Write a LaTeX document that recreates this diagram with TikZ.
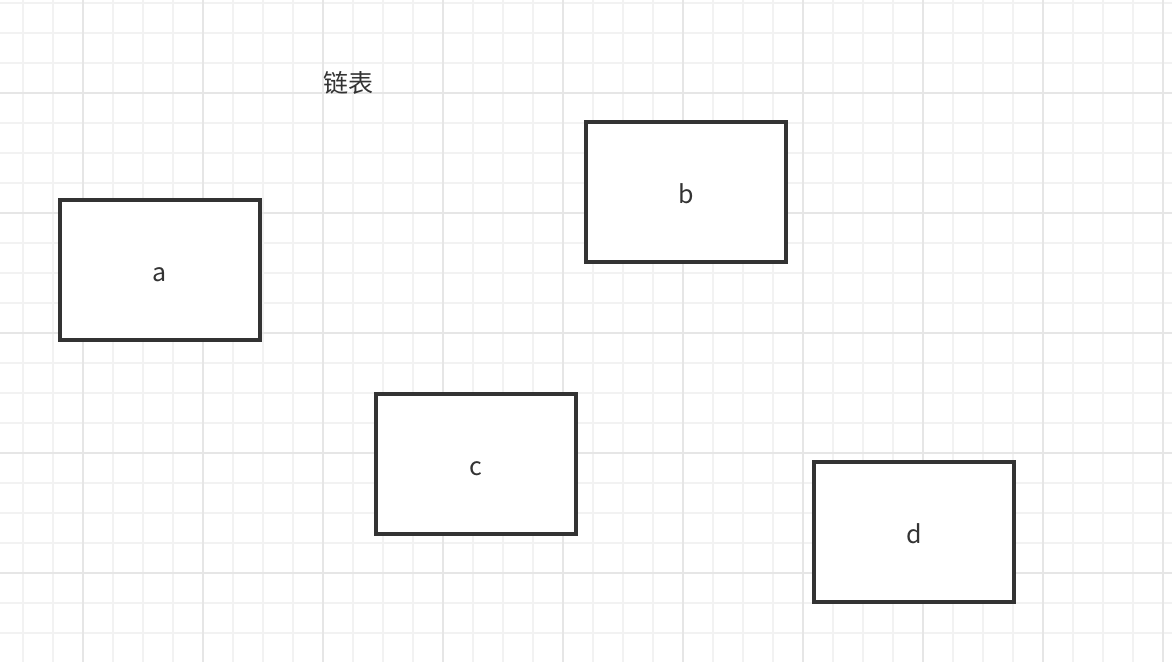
\documentclass[tikz,border=0pt]{standalone}
\usepackage{fontspec}
\setmainfont{Noto Sans CJK SC}
\definecolor{ink}{HTML}{333333}
\definecolor{gridminor}{HTML}{F2F2F2}
\definecolor{gridmajor}{HTML}{E6E6E6}
\tikzset{
  listnode/.style={draw=ink, line width=3.5pt, fill=white, rectangle,
    minimum width=200pt, minimum height=140pt, inner sep=0pt,
    text height=22pt, text depth=0pt,
    text=ink, font=\fontsize{25}{30}\selectfont},
  caption/.style={text=ink, inner sep=0pt, font=\fontsize{25}{30}\selectfont}
}
\begin{document}
\begin{tikzpicture}[x=1pt, y=-1pt]
  \useasboundingbox[fill=white] (0,0) rectangle (1172,662);
  % grid
  \foreach \x in {23,53,...,1163}
    \draw[gridminor, line width=2pt] (\x,0) -- (\x,662);
  \foreach \y in {3,33,...,633}
    \draw[gridminor, line width=2pt] (0,\y) -- (1172,\y);
  \foreach \x in {83,203,...,1163}
    \draw[gridmajor, line width=2pt] (\x,0) -- (\x,662);
  \foreach \y in {93,213,...,573}
    \draw[gridmajor, line width=2pt] (0,\y) -- (1172,\y);

  \node[caption] (title) at (348,83) {链表};
  \node[listnode] (a) at (160,270) {a};
  \node[listnode] (b) at (686,192) {b};
  \node[listnode] (c) at (476,464) {c};
  \node[listnode] (d) at (914,532) {d};
\end{tikzpicture}
\end{document}
